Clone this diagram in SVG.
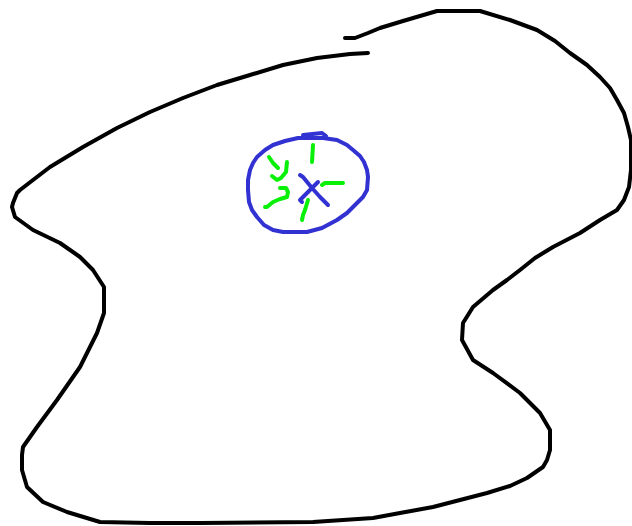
<svg xmlns="http://www.w3.org/2000/svg" width="632" height="526" viewBox="0 0 632 526">
<style>
.s{fill:none;stroke-linecap:round;stroke-linejoin:round}
.k{stroke:#000;stroke-width:4}
.b{stroke:#3232d2;stroke-width:4}
.g{stroke:#08f008;stroke-width:4}
</style>
<rect width="632" height="526" fill="#fff"/>
<g id="outline">
<polyline class="s k" points="345,38 355,38 368,33 380,28 403,21 420,16 437,11 480,11 510,20 537,30 555,41 570,53 587,65 600,77 610,88 617,100 624,113 628,127 631,140 631,153 631,170 629,187 624,200 617,210 600,220 580,233 553,247 535,258 520,270 507,280 493,290 473,307 463,323 462,340 473,360 493,373 520,393 540,413 550,430 550,450 547,460 543,467 527,478 510,486 487,493 460,500 433,507 400,513 373,518 313,522 200,523 150,523 100,522 67,512 43,502 27,487 22,470 22,455 23,447 37,427 57,400 80,367 97,333 104,313 104,287 93,270 80,257 60,243 33,230 15,217 12,207 13,203 17,193 20,190 33,180 50,167 83,147 117,128 150,112 183,98 217,85 250,75 283,65 317,58 350,54 368,53"/>
</g>
<g id="circle">
<polyline class="s b" points="298,138 323,138 337,140 347,145 353,150 360,156 364,162 367,170 368,177 367,190 363,197 357,203 347,213 337,220 322,228 307,232 283,232 273,230 264,225 257,217 252,210 249,202 248,190 248,180 250,170 253,163 257,157 265,150 273,145 285,141 298,138"/>
<polyline class="s b" points="303,135 322,133 326,136 323,138"/>
</g>
<g id="cross">
<polyline class="s b" points="300,175 303,177 312,188 320,197 328,205"/>
<polyline class="s b" points="318,182 312,188 303,197 300,200 302,202"/>
</g>
<g id="green-strokes">
<polyline class="s g" points="313,145 312,162"/>
<polyline class="s g" points="322,185 325,183 343,183"/>
<polyline class="s g" points="308,200 305,210 303,215 302,220"/>
<polyline class="s g" points="269,157 273,163 278,168"/>
<polyline class="s g" points="287,162 286,172 281,178 277,180 272,176"/>
<polyline class="s g" points="280,188 286,188 288,192 287,197 280,199 273,202 267,207 265,207"/>
</g>
</svg>
